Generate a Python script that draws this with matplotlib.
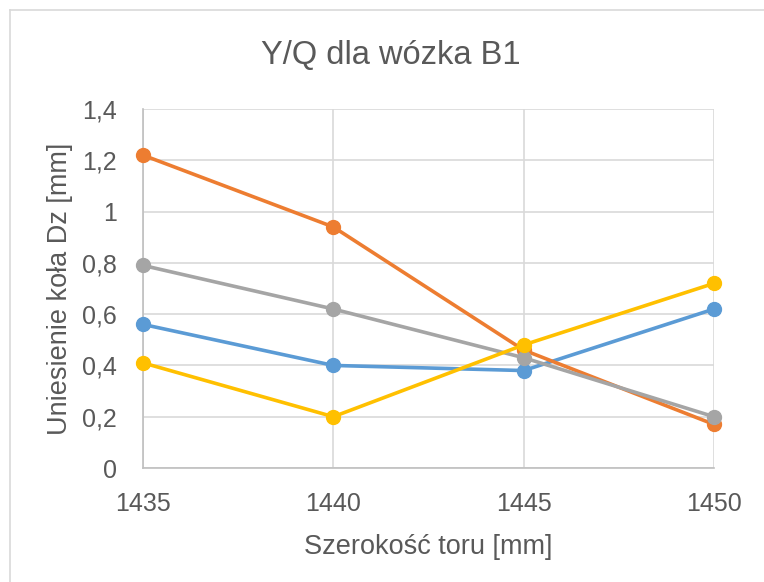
import matplotlib.pyplot as plt
from matplotlib.lines import Line2D
from matplotlib.ticker import FuncFormatter

# ===== data =====
szerokosc = [1435, 1440, 1445, 1450]
seria_1 = [0.56, 0.40, 0.38, 0.62]
seria_2 = [1.22, 0.94, 0.46, 0.17]
seria_3 = [0.79, 0.62, 0.43, 0.20]
seria_4 = [0.41, 0.20, 0.48, 0.72]
y_ticks = [0, 0.2, 0.4, 0.6, 0.8, 1.0, 1.2, 1.4]

kolory = ['#5B9BD5', '#ED7D31', '#A5A5A5', '#FFC000']

plt.rcParams['font.family'] = ['Liberation Sans', 'DejaVu Sans']

fig = plt.figure(figsize=(7.64, 5.82), dpi=100)
ax = fig.add_axes([143 / 764, 1 - 468 / 582, (714 - 143) / 764, (468 - 109) / 582])

for ys, cl in zip([seria_1, seria_2, seria_3, seria_4], kolory):
    ax.plot(szerokosc, ys, color=cl, lw=2.6, marker='o', markersize=10,
            clip_on=False, zorder=3)

ax.set_xlim(1435, 1450)
ax.set_ylim(0, 1.4)
ax.set_xticks(szerokosc)
ax.set_yticks(y_ticks)


def przecinek(v, pos):
    s = ('%.1f' % v).rstrip('0').rstrip('.')
    return s.replace('.', ',')


ax.yaxis.set_major_formatter(FuncFormatter(przecinek))
ax.grid(True, color='#D9D9D9', lw=1.2, zorder=0)
for side in ['top', 'right']:
    ax.spines[side].set_visible(False)
for side in ['left', 'bottom']:
    ax.spines[side].set_color('#BFBFBF')
    ax.spines[side].set_linewidth(1.2)
ax.tick_params(length=0, labelsize=18, labelcolor='#595959')
ax.tick_params(axis='x', pad=17)
ax.tick_params(axis='y', pad=19)

ax.set_xlabel('Szerokość toru [mm]', fontsize=19.5, color='#595959', labelpad=13)
ax.set_ylabel('Uniesienie koła Dz [mm]', fontsize=19.5, color='#595959', labelpad=6)
fig.text(391 / 764, 1 - 55 / 582, 'Y/Q dla wózka B1', fontsize=23.5, color='#595959',
         ha='center', va='center')

# ramka wykresu
fig.add_artist(Line2D([10 / 764, 10 / 764], [0, 1 - 10 / 582], color='#D9D9D9', lw=1.2,
                      transform=fig.transFigure))
fig.add_artist(Line2D([10 / 764, 1], [1 - 10 / 582, 1 - 10 / 582], color='#D9D9D9', lw=1.2,
                      transform=fig.transFigure))

plt.savefig('out.png', dpi=100)
plt.close()
